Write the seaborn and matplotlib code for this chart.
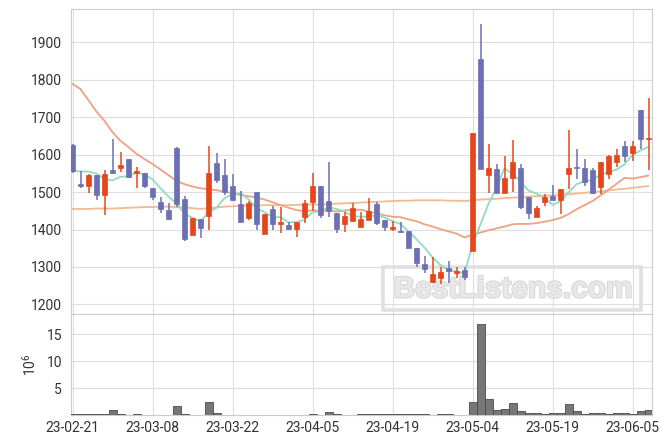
import numpy as np
import pandas as pd
import matplotlib
matplotlib.use("Agg")
import matplotlib.pyplot as plt
import seaborn as sns
from matplotlib.patches import Rectangle
import matplotlib.patheffects as pe

# ---------------- data ----------------
opens = [1625, 1521, 1515, 1545, 1491, 1559, 1563, 1587, 1550, 1552,
         1512, 1473, 1452, 1619, 1481, 1385, 1428, 1437, 1578, 1546,
         1517, 1469, 1430, 1500, 1389, 1456, 1416, 1413, 1401, 1433,
         1473, 1515, 1477, 1445, 1414, 1423, 1406, 1425, 1467, 1426,
         1401, 1397, 1396, 1352, 1309, 1259, 1270, 1296, 1284, 1291,
         1343, 1855, 1546, 1562, 1497, 1538, 1565, 1487, 1433, 1473,
         1490, 1480, 1549, 1567, 1565, 1558, 1513, 1549, 1580, 1622,
         1603, 1720, 1643]
highs = [1628, 1557, 1548, 1545, 1559, 1642, 1607, 1587, 1568, 1552,
         1512, 1486, 1471, 1621, 1490, 1430, 1428, 1624, 1604, 1588,
         1548, 1504, 1477, 1500, 1441, 1463, 1459, 1420, 1420, 1479,
         1551, 1515, 1580, 1445, 1448, 1471, 1448, 1485, 1473, 1426,
         1424, 1420, 1396, 1352, 1330, 1327, 1300, 1317, 1300, 1300,
         1659, 1948, 1629, 1576, 1597, 1640, 1576, 1487, 1462, 1494,
         1518, 1509, 1667, 1616, 1589, 1565, 1580, 1598, 1616, 1637,
         1637, 1720, 1750]
lows = [1550, 1512, 1498, 1479, 1438, 1548, 1553, 1537, 1511, 1511,
        1479, 1443, 1425, 1459, 1370, 1385, 1377, 1398, 1524, 1492,
        1475, 1421, 1425, 1398, 1389, 1398, 1392, 1399, 1379, 1417,
        1449, 1431, 1433, 1391, 1393, 1423, 1406, 1425, 1413, 1397,
        1397, 1390, 1350, 1300, 1284, 1257, 1255, 1257, 1270, 1266,
        1343, 1561, 1498, 1497, 1497, 1500, 1455, 1429, 1433, 1464,
        1478, 1442, 1509, 1536, 1515, 1496, 1496, 1534, 1567, 1580,
        1583, 1616, 1560]
closes = [1556, 1516, 1545, 1491, 1547, 1550, 1573, 1539, 1556, 1515,
          1486, 1454, 1427, 1468, 1374, 1430, 1405, 1552, 1531, 1500,
          1480, 1421, 1472, 1416, 1441, 1416, 1421, 1401, 1420, 1471,
          1515, 1439, 1449, 1401, 1435, 1458, 1429, 1450, 1417, 1408,
          1407, 1393, 1352, 1311, 1295, 1280, 1286, 1289, 1289, 1273,
          1659, 1561, 1565, 1497, 1538, 1579, 1460, 1445, 1458, 1487,
          1478, 1509, 1565, 1564, 1527, 1497, 1580, 1596, 1600, 1596,
          1622, 1643, 1645]
volumes_m = [0.25, 0.25, 0.25, 0.25, 0.25, 0.89, 0.3, 0.1, 0.3, 0.12,
             0.12, 0.12, 0.12, 1.65, 0.3, 0.12, 0.12, 2.4, 0.5, 0.12,
             0.12, 0.12, 0.0, 0.12, 0.12, 0.0, 0.12, 0.12, 0.12, 0.12,
             0.3, 0.12, 0.7, 0.3, 0.12, 0.12, 0.15, 0.15, 0.15, 0.15,
             0.15, 0.15, 0.15, 0.15, 0.15, 0.0, 0.15, 0.15, 0.0, 0.0,
             2.47, 17.0, 2.96, 1.0, 1.17, 2.2, 0.8, 0.37, 0.37, 0.15,
             0.37, 0.37, 2.04, 0.8, 0.15, 0.37, 0.37, 0.15, 0.37, 0.37,
             0.15, 0.8, 1.0]
ma_short = [1557, 1555, 1555, 1549, 1535, 1531, 1541, 1542, 1553, 1547,
            1534, 1510, 1488, 1470, 1442, 1431, 1421, 1446, 1458, 1484,
            1494, 1497, 1481, 1458, 1446, 1433, 1433, 1419, 1420, 1426,
            1446, 1449, 1459, 1455, 1448, 1436, 1434, 1435, 1438, 1432,
            1422, 1415, 1395, 1374, 1352, 1326, 1305, 1292, 1288, 1283,
            1359, 1414, 1469, 1511, 1564, 1548, 1528, 1504, 1496, 1486,
            1466, 1475, 1499, 1521, 1529, 1532, 1547, 1553, 1560, 1574,
            1599, 1611, 1621]
ma_mid = [1789, 1775, 1745, 1715, 1690, 1660, 1637, 1620, 1602, 1588,
          1575, 1560, 1545, 1530, 1521, 1515, 1510, 1508, 1505, 1501,
          1497, 1492, 1489, 1485, 1480, 1473, 1465, 1458, 1452, 1449,
          1451, 1450, 1451, 1448, 1451, 1452, 1453, 1448, 1443, 1438,
          1434, 1433, 1427, 1422, 1414, 1408, 1401, 1395, 1389, 1379,
          1386, 1392, 1398, 1403, 1408, 1414, 1415, 1415, 1417, 1421,
          1425, 1431, 1441, 1454, 1465, 1476, 1491, 1506, 1522, 1538,
          1536, 1540, 1544]
ma_long = [1455, 1455, 1455, 1456, 1456, 1456, 1457, 1458, 1459, 1460,
           1460, 1461, 1461, 1460, 1459, 1457, 1455, 1457, 1459, 1461,
           1462, 1463, 1464, 1464, 1465, 1465, 1465, 1465, 1466, 1466,
           1467, 1467, 1468, 1469, 1470, 1471, 1472, 1473, 1474, 1475,
           1476, 1477, 1477, 1478, 1478, 1478, 1478, 1477, 1477, 1476,
           1478, 1480, 1481, 1482, 1484, 1485, 1486, 1488, 1489, 1490,
           1491, 1493, 1494, 1496, 1498, 1500, 1502, 1504, 1507, 1509,
           1511, 1514, 1516]
tick_labels = ['23-02-21', '23-03-08', '23-03-22', '23-04-05',
               '23-04-19', '23-05-04', '23-05-19', '23-06-05']
price_ticks = [1200, 1300, 1400, 1500, 1600, 1700, 1800, 1900]
volume_ticks = [5, 10, 15]

# ---------------- styling ----------------
sns.set_theme(style="whitegrid")
plt.rcParams['font.family'] = ['Roboto', 'DejaVu Sans']
plt.rcParams['mathtext.fontset'] = 'custom'
plt.rcParams['mathtext.rm'] = 'Roboto'
plt.rcParams['mathtext.it'] = 'Roboto'

UP = '#e5461a'
DOWN = '#6b70b2'
GRID = '#dedede'
SPINE = '#cccccc'
TXT = '#333333'

df = pd.DataFrame({'open': opens, 'high': highs, 'low': lows, 'close': closes,
                   'vol': volumes_m, 'ma_s': ma_short, 'ma_m': ma_mid, 'ma_l': ma_long})
df['idx'] = np.arange(len(df))
up = df['close'] >= df['open']
colors = np.where(up, UP, DOWN)

fig = plt.figure(figsize=(6.71, 4.44), dpi=100)
L, W = 70.5 / 671, 581.2 / 671
ax1 = fig.add_axes([L, 1 - 313.8 / 444, W, (313.8 - 9.3) / 444])
ax2 = fig.add_axes([L, 1 - 415.3 / 444, W, (415.3 - 313.8) / 444])

for ax in (ax1, ax2):
    ax.set_facecolor('white')
    ax.grid(True, color=GRID, lw=0.8)
    ax.set_axisbelow(True)
    for s in ax.spines.values():
        s.set_color(SPINE)
        s.set_linewidth(0.8)
    ax.set_xlim(-0.25, 72.4)
    ax.set_xticks(np.arange(0, len(tick_labels) * 10, 10))

# watermark (under the candles)
ax1.add_patch(Rectangle((383 / 671, 1 - 310 / 444), 258 / 671, 42.7 / 444,
                        transform=fig.transFigure, fill=False, ec='#e0e0e0',
                        lw=2.6, zorder=0.7, clip_on=False))
ax1.text(513 / 671, 1 - 289.5 / 444, 'BestListens.com', transform=fig.transFigure,
         ha='center', va='center', fontsize=21.5, fontweight='bold',
         family=['Liberation Sans', 'DejaVu Sans'], color='#e8e8e8', zorder=0.8,
         path_effects=[pe.Stroke(linewidth=1.6, foreground='#d9d9d9'), pe.Normal()])

# moving averages
sns.lineplot(data=df, x='idx', y='ma_l', ax=ax1, color='#efbb92', lw=1.3, zorder=2)
sns.lineplot(data=df, x='idx', y='ma_m', ax=ax1, color='#eca283', lw=1.3, zorder=2)
sns.lineplot(data=df, x='idx', y='ma_s', ax=ax1, color='#92dcc2', lw=1.3, zorder=2)

# candles
ax1.vlines(df['idx'], df['low'], df['high'], colors=colors, lw=1.1, zorder=3)
body_bottom = np.minimum(df['open'], df['close'])
body_h = np.maximum(np.abs(df['close'] - df['open']), 1.8)
ax1.bar(df['idx'], body_h, bottom=body_bottom, width=0.6, color=colors,
        edgecolor=colors, lw=0.5, zorder=4)

ax1.set_ylim(1175, 1988)
ax1.set_yticks(price_ticks)
ax1.set_yticklabels([str(t) for t in price_ticks])
ax1.tick_params(axis='y', length=0, pad=6, labelsize=10, labelcolor=TXT)
ax1.tick_params(axis='x', length=0, labelbottom=False)
ax1.set_xlabel('')
ax1.set_ylabel('')

# volume
ax2.bar(df['idx'], df['vol'], width=1.0, color='#777777', edgecolor='#4a4a4a',
        lw=0.6, zorder=3)
ax2.set_ylim(0, 18.8)
ax2.set_yticks(volume_ticks)
ax2.set_yticklabels([str(t) for t in volume_ticks])
ax2.set_xticklabels(tick_labels)
ax2.tick_params(axis='y', length=0, pad=6, labelsize=10, labelcolor=TXT)
ax2.tick_params(axis='x', length=0, pad=4, labelsize=10, labelcolor=TXT)
ax2.set_xlabel('')
ax2.set_ylabel(r'$10^6$', fontsize=10, color=TXT)
ax2.yaxis.set_label_coords(-0.054, 0.5)

fig.savefig('out.png', dpi=100)
